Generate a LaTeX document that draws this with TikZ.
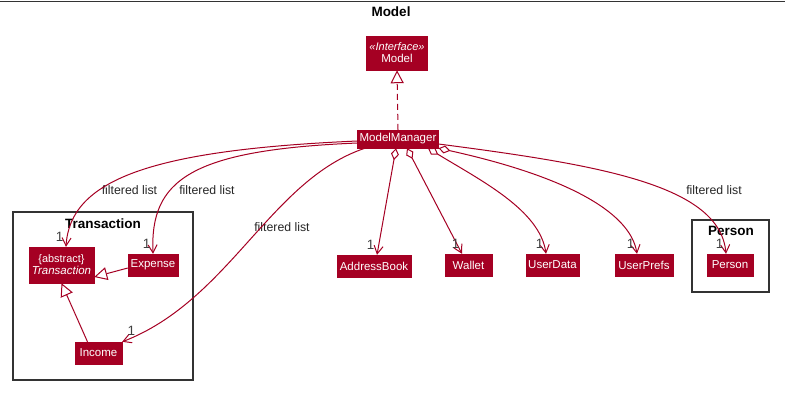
\documentclass[tikz,border=0pt]{standalone}
\usepackage{fontspec}
\setmainfont{Liberation Sans}
\usetikzlibrary{positioning,calc,arrows.meta}
\definecolor{umlred}{RGB}{165,0,35}
\tikzset{
	cls/.style={draw=umlred, fill=umlred, text=white, font=\fontsize{11.5}{13}\selectfont, inner xsep=2pt, inner ysep=2pt, minimum height=22pt, align=center},
	pkg/.style={draw=black!80, line width=1.3pt},
	ptitle/.style={font=\bfseries\fontsize{13.5}{15}\selectfont},
	lbl/.style={font=\fontsize{12.3}{14}\selectfont, text=black!85},
	mult/.style={font=\fontsize{13.5}{14}\selectfont, text=black!75, inner sep=1pt},
	assoc/.style={draw=umlred, line width=1pt, -{Straight Barb[length=8pt,width=9pt]}},
	aggr/.style={draw=umlred, line width=1pt, {Diamond[open,length=12pt,width=8pt]}-{Straight Barb[length=8pt,width=9pt]}},
	inherit/.style={draw=umlred, line width=1pt, -{Triangle[open,length=13pt,width=13pt,fill=white]}},
}
\begin{document}
\begin{tikzpicture}[x=1pt, y=-1pt]
		\useasboundingbox (0,0) rectangle (785,400);
		\draw[line width=1.5pt, black!80] (0,1.5) -- (785,1.5);
		\node[ptitle] (mtitle) at (391,12) {Model};
		% classes
		\node[cls, minimum width=61pt, minimum height=34pt] (model) at (397,53) {{\fontsize{11}{12}\selectfont\itshape «Interface»}\\[-1pt]Model};
		\node[cls, minimum width=80pt, minimum height=18pt] (mm) at (398,139) {ModelManager};
		\node[cls, minimum width=65pt, minimum height=36pt] (tr) at (61.5,265) {{\fontsize{10.9}{12}\selectfont\{abstract\}}\\[-1pt]\textit{Transaction}};
		\node[cls, minimum width=50pt] (exp) at (153,265) {Expense};
		\node[cls, minimum width=47pt] (inc) at (98.5,353) {Income};
		\node[cls, minimum width=74pt] (ab) at (374,266) {AddressBook};
		\node[cls, minimum width=47pt] (wal) at (468.5,265) {Wallet};
		\node[cls, minimum width=53pt] (ud) at (552.5,265) {UserData};
		\node[cls, minimum width=58pt] (up) at (644,265) {UserPrefs};
		\node[cls, minimum width=46pt] (per) at (730,265) {Person};
		% packages
		\draw[pkg] (13,212) rectangle (193,380);
		\node[ptitle] (trtitle) at (103,224) {Transaction};
		\draw[pkg] (692,220) rectangle (769,292);
		\node[ptitle] (pertitle) at (731,231) {Person};
		% labels
		\node[lbl] (fl1) at (129.5,190) {filtered list};
		\node[lbl] (fl2) at (207,190) {filtered list};
		\node[lbl] (fl3) at (282,227) {filtered list};
		\node[lbl] (fl4) at (714,190) {filtered list};
		% relations
		\draw[inherit, dash pattern=on 6pt off 4pt] (mm.north) -- (model.south);
		\draw[inherit] ([yshift=-3pt]exp.west) -- ([yshift=-12pt]tr.east);
		\draw[inherit] ([xshift=-11pt]inc.north) -- (tr.south);
		\draw[assoc] ([yshift=-2pt]mm.west) .. controls (150,150) and (70,180) .. ([xshift=4.5pt]tr.north) node[mult, anchor=south east, xshift=-1pt, yshift=4pt] {1};
		\draw[assoc] ([yshift=-4pt]mm.west) .. controls (190,150) and (150,180) .. (exp.north) node[mult, anchor=south east, xshift=-1pt, yshift=4pt] {1};
		\draw[assoc] ([xshift=-33pt]mm.south) .. controls (270,180) and (230,300) .. (inc.north east) node[mult, anchor=south west, xshift=4pt, yshift=5pt] {1};
		\draw[aggr] ([xshift=-2pt]mm.south) -- ([xshift=3pt]ab.north) node[mult, anchor=south east, xshift=-1pt, yshift=4pt] {1};
		\draw[aggr] ([xshift=9pt]mm.south) -- ([xshift=-6.5pt]wal.north) node[mult, anchor=south east, xshift=-1pt, yshift=4pt] {1};
		\draw[aggr] ([xshift=30pt]mm.south) .. controls (480,180) and (540,210) .. ([xshift=-6.5pt]ud.north) node[mult, anchor=south east, xshift=-1pt, yshift=4pt] {1};
		\draw[aggr] (mm.south east) .. controls (560,175) and (630,210) .. ([xshift=-7pt]up.north) node[mult, anchor=south east, xshift=-1pt, yshift=4pt] {1};
		\draw[assoc] ([yshift=-5pt]mm.east) .. controls (600,165) and (720,185) .. ([xshift=-4pt]per.north) node[mult, anchor=south east, xshift=-1pt, yshift=4pt] {1};
	\end{tikzpicture}
\end{document}
